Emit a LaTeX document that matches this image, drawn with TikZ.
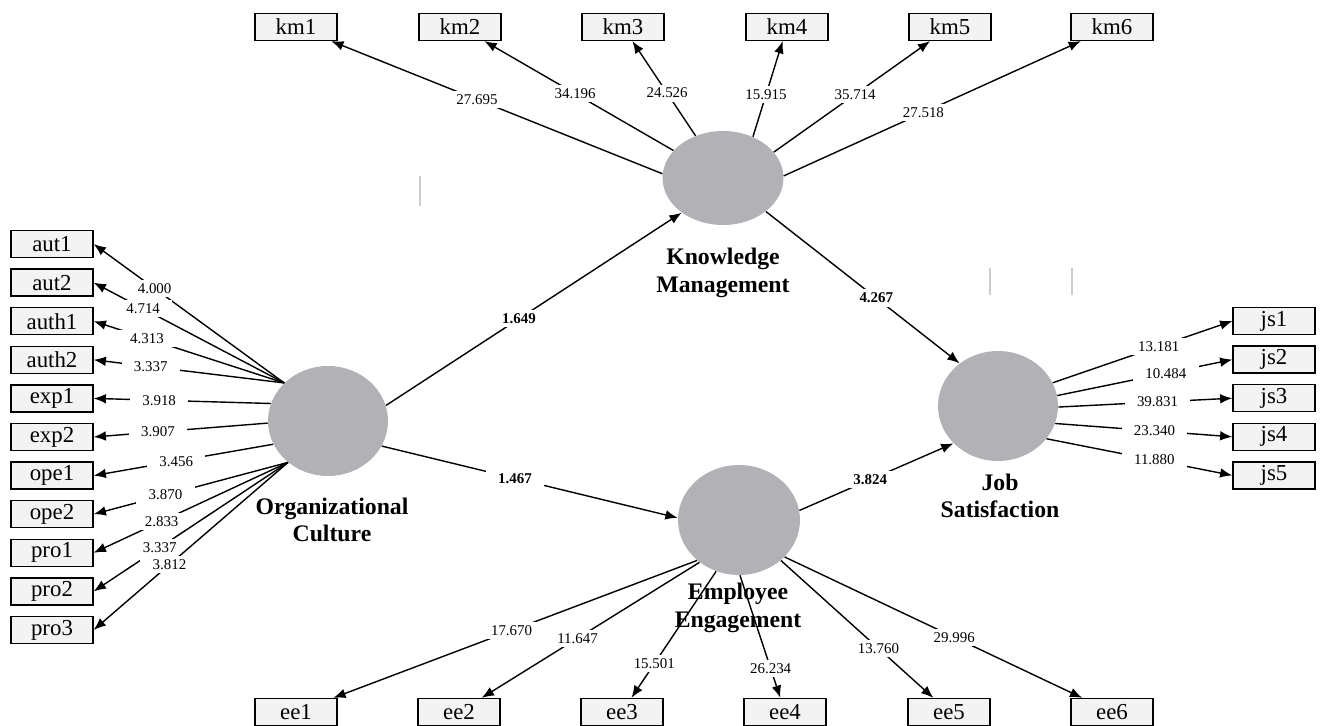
\documentclass[tikz,border=0pt]{standalone}
\usepackage{fontspec}
\setmainfont{Liberation Serif}
\usetikzlibrary{shapes.geometric,arrows.meta}
\definecolor{latentgray}{RGB}{178,178,182}
\definecolor{boxgray}{RGB}{243,243,243}

\begin{document}
\begin{tikzpicture}[x=0.02cm,y=-0.02cm,
    indbox/.style={draw=black,fill=boxgray,line width=0.7pt,minimum width=1.64cm,minimum height=0.54cm,inner sep=0pt,font=\fontsize{13}{15}\selectfont},
    latent/.style={ellipse,fill=latentgray,inner sep=0pt},
    lname/.style={align=center,font=\fontsize{13.5}{15.5}\selectfont\bfseries},
    loading/.style={line width=0.8pt,-{Latex[length=7pt,width=5.5pt]}},
    coef/.style={fill=white,inner xsep=7pt,inner ysep=2pt,font=\fontsize{8.5}{10}\selectfont},
    pcoef/.style={coef,font=\fontsize{8.5}{10}\selectfont\bfseries}]
    %%%%% START %%%%%
    \useasboundingbox (0,0) rectangle (1320,726);

    \draw[gray!40,line width=0.6pt] (420,176) -- (420,206);
    \draw[gray!40,line width=0.6pt] (990,268) -- (990,295);
    \draw[gray!40,line width=0.6pt] (1072,268) -- (1072,295);

    % latent variables
    \node[latent,minimum width=2.4cm,minimum height=2.2cm] (oc) at (328,421) {};
    \node[latent,minimum width=2.42cm,minimum height=1.88cm] (km) at (723,178) {};
    \node[latent,minimum width=2.44cm,minimum height=2.2cm] (ee) at (739,520) {};
    \node[latent,minimum width=2.4cm,minimum height=2.2cm] (js) at (998,406) {};

    \node[lname] (ocname) at (332,520) {Organizational\\Culture};
    \node[lname] (kmname) at (723,273) {Knowledge\\Management};
    \node[lname] (eename) at (738,608) {Employee\\Engagement};
    \node[lname] (jsname) at (1000,496) {Job\\Satisfaction};

    % indicators
    \node[indbox] (km1) at (296,27) {km1};
    \node[indbox] (km2) at (460,27) {km2};
    \node[indbox] (km3) at (623,27) {km3};
    \node[indbox] (km4) at (787,27) {km4};
    \node[indbox] (km5) at (950,27) {km5};
    \node[indbox] (km6) at (1112,27) {km6};

    \node[indbox] (aut1) at (52,244) {aut1};
    \node[indbox] (aut2) at (52,282.6) {aut2};
    \node[indbox] (auth1) at (52,321.2) {auth1};
    \node[indbox] (auth2) at (52,359.8) {auth2};
    \node[indbox] (exp1) at (52,398.4) {exp1};
    \node[indbox] (exp2) at (52,437) {exp2};
    \node[indbox] (ope1) at (52,475.6) {ope1};
    \node[indbox] (ope2) at (52,514.2) {ope2};
    \node[indbox] (pro1) at (52,552.8) {pro1};
    \node[indbox] (pro2) at (52,591.4) {pro2};
    \node[indbox] (pro3) at (52,630) {pro3};

    \node[indbox] (js1) at (1274,321) {js1};
    \node[indbox] (js2) at (1274,359.6) {js2};
    \node[indbox] (js3) at (1274,398.2) {js3};
    \node[indbox] (js4) at (1274,436.8) {js4};
    \node[indbox] (js5) at (1274,475.4) {js5};

    \node[indbox] (ee1) at (296,712) {ee1};
    \node[indbox] (ee2) at (459,712) {ee2};
    \node[indbox] (ee3) at (622,712) {ee3};
    \node[indbox] (ee4) at (785,712) {ee4};
    \node[indbox] (ee5) at (949,712) {ee5};
    \node[indbox] (ee6) at (1112,712) {ee6};

    % outer model
    \draw[loading] (km.176) -- node[coef,pos=0.56] {27.695} (km1);
    \draw[loading] (km.151) -- node[coef,pos=0.52] {34.196} (km2);
    \draw[loading] (km.123) -- node[coef,pos=0.45] {24.526} (km3);
    \draw[loading] (km.54) -- node[coef,pos=0.44] {15.915} (km4);
    \draw[loading] (km.27) -- node[coef,pos=0.52] {35.714} (km5);
    \draw[loading] (km.2) -- node[coef,pos=0.47] {27.518} (km6);

    \draw[loading] (oc.139) -- node[coef,pos=0.68] {4.000} (aut1.east);
    \draw[loading] (oc.139) -- node[coef,pos=0.74] {4.714} (aut2.east);
    \draw[loading] (oc.139) -- node[coef,pos=0.72] {4.313} (auth1.east);
    \draw[loading] (oc.139) -- node[coef,pos=0.70] {3.337} (auth2.east);
    \draw[loading] (oc.163) -- node[coef,pos=0.63] {3.918} (exp1.east);
    \draw[loading] (oc.182) -- node[coef,pos=0.63] {3.907} (exp2.east);
    \draw[loading] (oc.203) -- node[coef,pos=0.54] {3.456} (ope1.east);
    \draw[loading] (oc.226) -- node[coef,pos=0.63] {3.870} (ope2.east);
    \draw[loading] (oc.226) -- node[coef,pos=0.65] {2.833} (pro1.east);
    \draw[loading] (oc.226) -- node[coef,pos=0.66] {3.337} (pro2.east);
    \draw[loading] (oc.226) -- node[coef,pos=0.61] {3.812} (pro3.east);

    \draw[loading] (js.23) -- node[coef,pos=0.59] {13.181} (js1.west);
    \draw[loading] (js.10) -- node[coef,pos=0.62] {10.484} (js2.west);
    \draw[loading] (js.359) -- node[coef,pos=0.57] {39.831} (js3.west);
    \draw[loading] (js.343) -- node[coef,pos=0.56] {23.340} (js4.west);
    \draw[loading] (js.326) -- node[coef,pos=0.58] {11.880} (js5.west);

    \draw[loading] (ee.224) -- node[coef,pos=0.51] {17.670} (ee1);
    \draw[loading] (ee.227) -- node[coef,pos=0.56] {11.647} (ee2);
    \draw[loading] (ee.246) -- node[coef,pos=0.73] {15.501} (ee3);
    \draw[loading] (ee.271) -- node[coef,pos=0.76] {26.234} (ee4);
    \draw[loading] (ee.316) -- node[coef,pos=0.64] {13.760} (ee5);
    \draw[loading] (ee.321) -- node[coef,pos=0.57] {29.996} (ee6);

    % inner model
    \draw[loading] (oc.15) -- node[pcoef,pos=0.45] {1.649} (km.220);
    \draw[loading] (oc.335) -- node[pcoef,pos=0.45] {1.467} (ee.178);
    \draw[loading] (km.322) -- node[pcoef,pos=0.57] {4.267} (js.132);
    \draw[loading] (ee.9) -- node[pcoef,pos=0.46] {3.824} (js.220);
    %%%%% END %%%%%
\end{tikzpicture}
\end{document}
